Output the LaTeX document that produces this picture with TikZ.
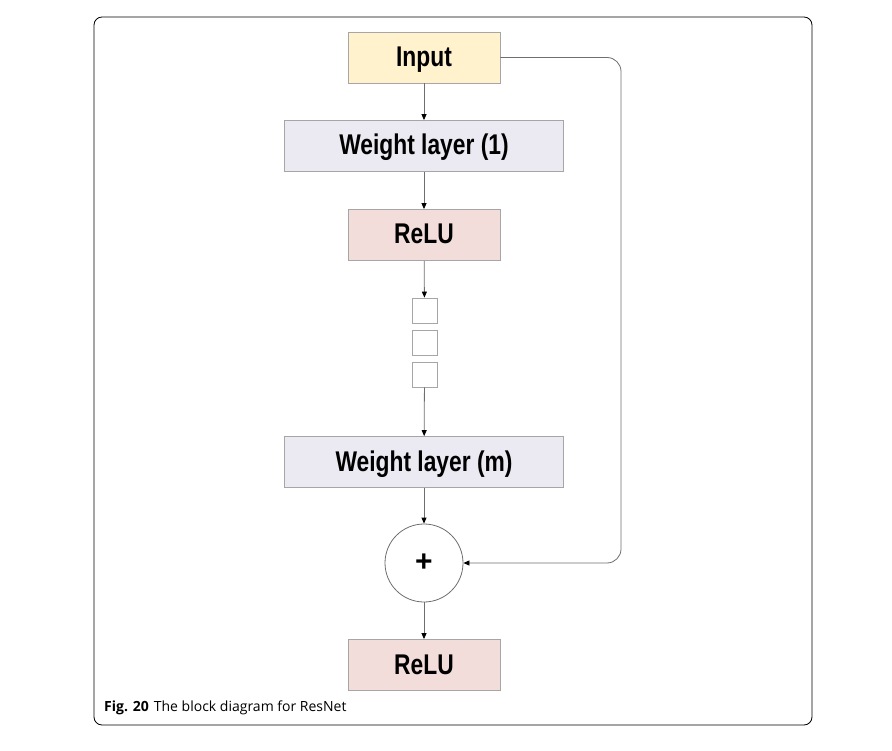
\documentclass[tikz,border=0pt]{standalone}
\usepackage{fontspec}
\setmainfont{Liberation Sans}
\newfontfamily\boxfont[FakeStretch=0.8]{Liberation Sans}
\newfontfamily\capfont{Open Sans}
\usetikzlibrary{arrows.meta, calc}
\definecolor{inputfill}{HTML}{FFF2CC}
\definecolor{weightfill}{HTML}{EBE9F1}
\definecolor{relufill}{HTML}{F2DDDB}
\definecolor{edgegray}{HTML}{A6A6A6}
\definecolor{linegray}{HTML}{6E6E6E}
\tikzstyle{block}=[draw=edgegray, line width=0.8pt, inner sep=0pt, minimum height=51pt,
    text height=20pt, text depth=2pt, font=\boxfont\bfseries\fontsize{28.5}{30}\selectfont]
\tikzstyle{smallblock}=[block, minimum width=152pt]
\tikzstyle{wideblock}=[block, minimum width=279pt, fill=weightfill]
\tikzstyle{tiny}=[draw=edgegray, line width=0.8pt, minimum size=25pt, inner sep=0pt]
\tikzstyle{arr}=[draw=linegray, line width=0.8pt, -{Triangle[length=6pt, width=5pt, color=black]}]

\begin{document}
\begin{tikzpicture}[x=1pt, y=-1pt]
    \useasboundingbox (0, 0) rectangle (892, 751);
    \draw[line width=0.8pt, rounded corners=8pt] (94, 17) rectangle (812, 725);

    \node[smallblock, fill=inputfill] (input) at (424, 57.5) {Input};
    \node[wideblock] (wone) at (424, 146) {Weight layer (1)};
    \node[smallblock, fill=relufill] (relu) at (424, 235) {ReLU};

    \node[tiny] (boxa) at (424.5, 310.5) {};
    \node[tiny] (boxb) at (424.5, 342.5) {};
    \node[tiny] (boxc) at (424.5, 374.5) {};

    \node[wideblock] (wm) at (424, 462) {Weight layer (m)};
    \node[circle, draw=linegray, line width=0.8pt, minimum size=78pt, inner sep=0pt,
        font=\bfseries\fontsize{30}{30}\selectfont] (plus) at (424, 563) {+};
    \node[smallblock, fill=relufill] (reluout) at (424, 665) {ReLU};

    \draw[arr] (input) -- (wone);
    \draw[arr] (wone) -- (relu);
    \draw[arr] (relu) -- (boxa);
    \draw[arr] (boxc) -- (wm);
    \draw[arr] (wm) -- (plus);
    \draw[arr] (plus) -- (reluout);

    \coordinate (skip) at (621, 563);
    \draw[arr, rounded corners=14pt] (input.east) -| (skip) -- (plus.east);

    \node[anchor=west, inner sep=0pt, font=\capfont\fontsize{14}{16}\selectfont] (caption) at (104, 708)
        {\textbf{Fig. 20}\hspace{5pt}The block diagram for ResNet};
\end{tikzpicture}
\end{document}
